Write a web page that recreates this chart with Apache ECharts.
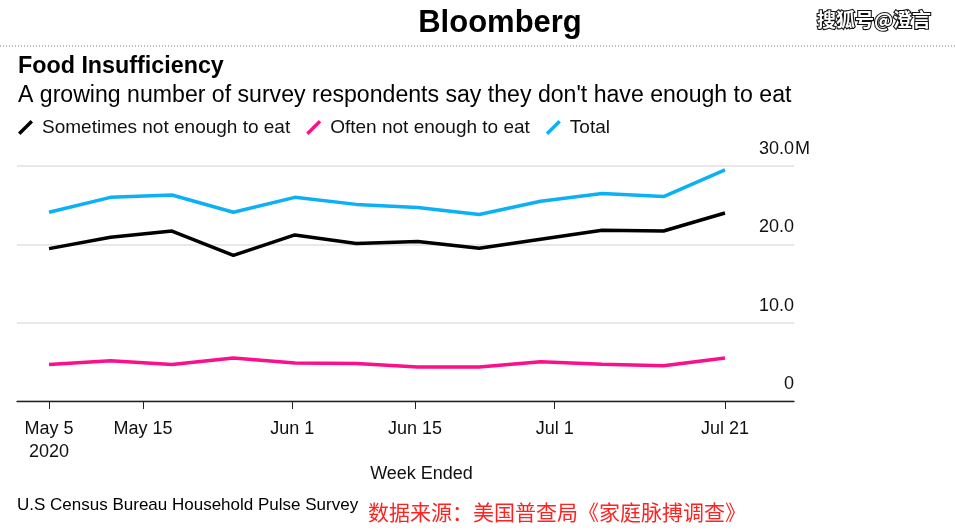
<!DOCTYPE html>
<html><head><meta charset="utf-8">
<script src="https://cdn.jsdelivr.net/npm/echarts@6/dist/echarts.min.js"></script>
<style>html,body{margin:0;padding:0;background:#fff}#c{width:955px;height:532px}</style>
</head><body><div id="c"></div>
<script>
// Week ended, as days after May 5, 2020 (May 5 ... Jul 21, weekly)
const weekDays = [0, 7, 14, 21, 28, 35, 42, 49, 56, 63, 70, 77];
// Millions of respondents
const sometimes = [19.45, 20.9, 21.7, 18.6, 21.2, 20.1, 20.35, 19.5, 20.65, 21.8, 21.7, 24.0];
const often     = [4.65, 5.15, 4.65, 5.5, 4.85, 4.8, 4.35, 4.35, 5.0, 4.7, 4.5, 5.5];
const total     = [24.1, 26.0, 26.3, 24.1, 26.0, 25.1, 24.7, 23.8, 25.5, 26.5, 26.1, 29.5];
const seriesNames = ['Sometimes not enough to eat', 'Often not enough to eat', 'Total'];
const tickDays = [0, 10.7, 27.7, 41.7, 57.6, 77];
const tickLabels = ['May 5\n2020', 'May 15', 'Jun 1', 'Jun 15', 'Jul 1', 'Jul 21'];
const yUnit = 'M';

const FONT = "'Liberation Sans', Arial, Helvetica, sans-serif";
const CJK = "'Noto Sans CJK SC', sans-serif";
const pairs = v => weekDays.map((d, i) => [d, v[i]]);
const slash = 'path://M0,12.6L12.6,0L15,2.4L2.4,15Z M19,15L19,15';

const chart = echarts.init(document.getElementById('c'), null, {renderer: 'canvas'});
const yBase = {
  type: 'value', position: 'right', min: 0, max: 30, interval: 10,
  axisLine: {show: false}, axisTick: {show: false}
};
chart.setOption({
  animation: false,
  backgroundColor: '#fff',
  textStyle: {fontFamily: FONT},
  grid: {left: 17, right: 161, top: 166, bottom: 131, containLabel: false},
  legend: {
    left: 18, top: 118, padding: 0, itemWidth: 19, itemHeight: 15, itemGap: 16,
    icon: slash,
    data: seriesNames,
    textStyle: {fontSize: 19, color: '#111', fontFamily: FONT}
  },
  xAxis: {
    type: 'value', min: -3.65, max: 84.86,
    name: 'Week Ended', nameLocation: 'middle', nameGap: 63,
    nameTextStyle: {fontSize: 18, color: '#111', fontFamily: FONT, padding: [0, 0, 0, 32]},
    axisLine: {show: true, onZero: false, lineStyle: {color: '#222', width: 1.3}},
    axisTick: {show: true, customValues: tickDays, length: 8, lineStyle: {color: '#222', width: 1}},
    axisLabel: {
      customValues: tickDays, margin: 17, fontSize: 18, color: '#111', lineHeight: 23,
      fontFamily: FONT,
      formatter: v => {
        let best = 0;
        tickDays.forEach((t, i) => { if (Math.abs(t - v) < Math.abs(tickDays[best] - v)) best = i; });
        return tickLabels[best];
      }
    },
    splitLine: {show: false}
  },
  yAxis: [
    Object.assign({}, yBase, {
      axisLabel: {
        inside: true, margin: 0, align: 'right', verticalAlign: 'bottom', padding: [0, 0, 8, 0],
        fontSize: 18, color: '#111', fontFamily: FONT,
        formatter: v => (v === 0 ? '0' : v.toFixed(1))
      },
      splitLine: {show: true, lineStyle: {color: '#e0e0e0', width: 1.5}}
    }),
    Object.assign({}, yBase, {
      axisLabel: {
        inside: false, margin: 1, align: 'left', verticalAlign: 'bottom', padding: [0, 0, 8, 0],
        fontSize: 18, color: '#111', fontFamily: FONT,
        formatter: v => (v === 30 ? yUnit : '')
      },
      splitLine: {show: false}
    })
  ],
  series: [
    {name: seriesNames[0], type: 'line', data: pairs(sometimes), symbol: 'none', color: '#000',
     lineStyle: {width: 3.5, color: '#000'}, z: 3},
    {name: seriesNames[1], type: 'line', data: pairs(often), symbol: 'none', color: '#fc0f8c',
     lineStyle: {width: 3.5, color: '#fc0f8c'}, z: 3},
    {name: seriesNames[2], type: 'line', data: pairs(total), symbol: 'none', color: '#0cb0f5',
     lineStyle: {width: 3.5, color: '#0cb0f5'}, z: 3}
  ],
  graphic: [
    {type: 'text', x: 500, y: 23, style: {text: 'Bloomberg', align: 'center', verticalAlign: 'middle',
      font: 'bold 31px ' + FONT, fill: '#000'}},
    {type: 'text', x: 874, y: 20, style: {text: '搜狐号@澄言', align: 'center', verticalAlign: 'middle',
      font: 'bold 19px ' + CJK, fill: '#fff', stroke: '#111', lineWidth: 2.2}},
    {type: 'line', shape: {x1: 0, y1: 46, x2: 955, y2: 46},
      style: {stroke: '#777', lineWidth: 1, lineDash: [1, 2]}},
    {type: 'text', x: 18, y: 67, style: {text: 'Food Insufficiency', verticalAlign: 'middle',
      font: 'bold 23.3px ' + FONT, fill: '#000'}},
    {type: 'text', x: 18, y: 96, style: {text: "A growing number of survey respondents say they don't have enough to eat",
      verticalAlign: 'middle', font: '23.1px ' + FONT, fill: '#000'}},
    {type: 'text', x: 17, y: 505, style: {text: 'U.S Census Bureau Household Pulse Survey', verticalAlign: 'middle',
      font: '17px ' + FONT, fill: '#000'}},
    {type: 'text', x: 368, y: 512, style: {text: '数据来源：美国普查局《家庭脉搏调查》', verticalAlign: 'middle',
      font: '21px ' + CJK, fill: '#ff2222'}}
  ]
});
</script>
</body></html>
